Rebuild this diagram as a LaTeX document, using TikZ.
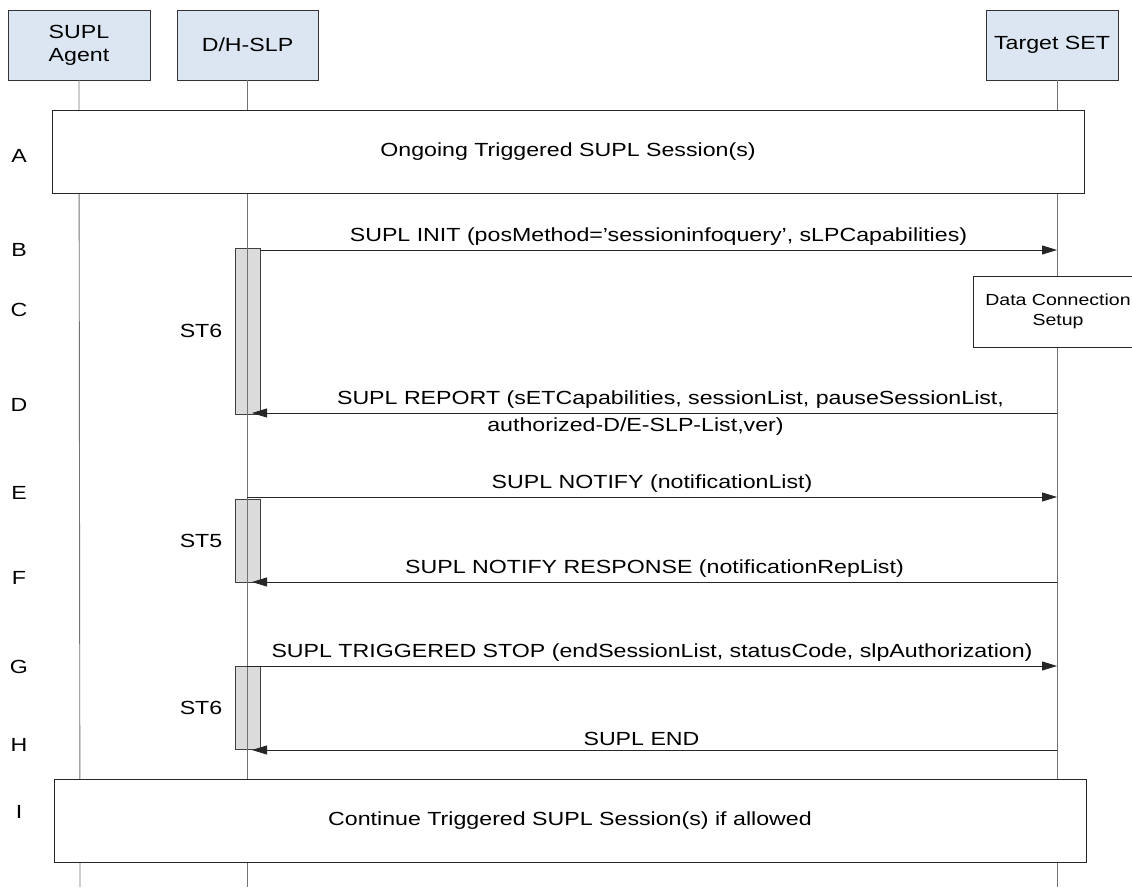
\documentclass[tikz,border=0pt]{standalone}
\usepackage{fontspec}
\setmainfont[FakeStretch=1.22]{Liberation Sans}
\usepackage{tikz}
\usetikzlibrary{positioning}
\usetikzlibrary{arrows.meta}
\usepackage{xcolor}
\definecolor{headblue}{RGB}{220,230,242}

\begin{document}
\begin{tikzpicture}[x=1pt,y=-1pt,
        lbl/.style={font=\fontsize{19}{23}\selectfont},
        head/.style={lbl, draw=black!80, fill=headblue, minimum height=70pt, align=center},
        life/.style={draw=black!55, line width=0.9pt},
        phase/.style={lbl, draw=black!85, fill=white, minimum width=1032pt, minimum height=83pt},
        timer/.style={draw=black!75, fill=black!14, minimum width=25pt, inner sep=0pt},
        msg/.style={draw=black!85, line width=0.8pt, -{Triangle[length=15pt,width=9pt]}}]
        \useasboundingbox (0,0) rectangle (1132,887);
        % actors
        \node[head, minimum width=142pt] (agent) at (79,45) {SUPL\\Agent};
        \node[head, minimum width=141pt] (slp) at (247.5,45) {D/H-SLP};
        \node[head, minimum width=132pt] (set) at (1052,45) {Target SET};
        % timers
        \node[timer, minimum height=166pt] (st1) at (247.5,331) {};
        \node[timer, minimum height=83pt] (st2) at (247.5,540.5) {};
        \node[timer, minimum height=83pt] (st3) at (247.5,707.5) {};
        \node[lbl, left=9pt of st1] (st1lbl) {ST6};
        \node[lbl, left=9pt of st2] (st2lbl) {ST5};
        \node[lbl, left=9pt of st3] (st3lbl) {ST6};
        % lifelines
        \coordinate (bottom) at (80,887);
        \coordinate (settop) at (1057,80);
        \draw[life] (agent.south) -- (bottom);
        \draw[life] (slp.south) -- (slp.south |- bottom);
        \draw[life] (settop) -- (settop |- bottom);
        % phases
        \node[phase] (ongoing) at (568,151.5) {Ongoing Triggered SUPL Session(s)};
        \node[phase] (continue) at (570,820.5) {Continue Triggered SUPL Session(s) if allowed};
        \node[draw=black!85, fill=white, minimum width=170pt, minimum height=71pt, align=center,
            font=\fontsize{16}{20}\selectfont] (dcs) at (1058,311.5) {Data Connection\\Setup};
        % messages
        \coordinate (b0) at (260,250);
        \coordinate (d0) at (1057,413);
        \coordinate (d1) at (252,413);
        \coordinate (e0) at (247,497);
        \coordinate (f0) at (1057,582);
        \coordinate (g0) at (247,666);
        \coordinate (h0) at (1057,750);
        \draw[msg] (b0) -- (b0 -| settop) node[lbl, midway, above=1pt] {SUPL INIT (posMethod='sessioninfoquery', sLPCapabilities)};
        \draw[msg] (d0) -- (d1)
            node[lbl, midway, above=1pt, xshift=16pt] {SUPL REPORT (sETCapabilities, sessionList, pauseSessionList,}
            node[lbl, midway, below=1pt, xshift=-19pt] {authorized-D/E-SLP-List,ver)};
        \draw[msg] (e0) -- (e0 -| settop) node[lbl, midway, above=1pt] {SUPL NOTIFY (notificationList)};
        \draw[msg] (f0) -- (f0 -| d1) node[lbl, midway, above=1pt] {SUPL NOTIFY RESPONSE (notificationRepList)};
        \draw[msg] (g0) -- (g0 -| settop) node[lbl, midway, above=1pt] {SUPL TRIGGERED STOP (endSessionList, statusCode, slpAuthorization)};
        \draw[msg] (h0) -- (h0 -| d1) node[lbl, midway, above=1pt, xshift=-13pt] {SUPL END};
        % steps
        \foreach \l/\y in {A/156,B/250,C/310,D/405,E/493,F/578,G/667,H/745,I/812}
            \node[lbl] (row\l) at (19,\y) {\l};
\end{tikzpicture}
\end{document}
